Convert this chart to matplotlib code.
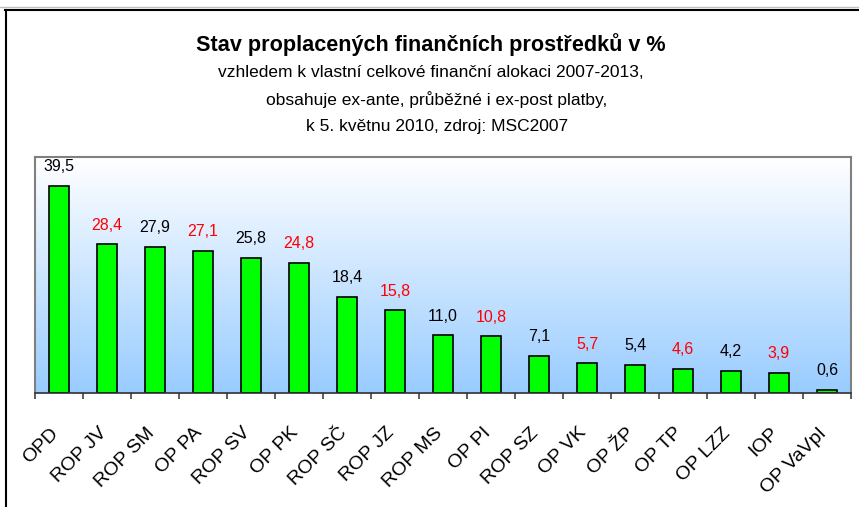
import matplotlib.pyplot as plt
import numpy as np
from matplotlib.colors import LinearSegmentedColormap
from matplotlib.lines import Line2D
from matplotlib.transforms import ScaledTranslation

# Data
programy = ['OPD', 'ROP JV', 'ROP SM', 'OP PA', 'ROP SV', 'OP PK', 'ROP SČ',
            'ROP JZ', 'ROP MS', 'OP PI', 'ROP SZ', 'OP VK', 'OP ŽP', 'OP TP',
            'OP LZZ', 'IOP', 'OP VaVpI']
hodnoty = [39.5, 28.4, 27.9, 27.1, 25.8, 24.8, 18.4, 15.8, 11.0, 10.8,
           7.1, 5.7, 5.4, 4.6, 4.2, 3.9, 0.6]

titulek = 'Stav proplacených finančních prostředků v %'
podtitulky = ['vzhledem k vlastní celkové finanční alokaci 2007-2013,',
              'obsahuje ex-ante, průběžné i ex-post platby,',
              'k 5. květnu 2010, zdroj: MSC2007']

plt.rcParams['font.family'] = ['Liberation Sans', 'DejaVu Sans']

W, H = 859, 507
fig = plt.figure(figsize=(W / 100, H / 100), dpi=100)
ax = fig.add_axes([35 / W, 1 - 393 / H, (851 - 35) / W, (393 - 157) / H])

n = len(programy)
x = np.arange(n)
ax.set_xlim(-0.5, n - 0.5)
ax.set_ylim(0, 45)

# Gradient background of the plot area
gradient = np.linspace(0, 1, 256).reshape(-1, 1)
cmap = LinearSegmentedColormap.from_list('pozadi', ['#99ccff', '#ffffff'])
ax.imshow(gradient, aspect='auto', cmap=cmap, origin='lower',
          extent=[-0.5, n - 0.5, 0, 45], zorder=0)

ax.bar(x, hodnoty, width=0.42, color='#00ff00', edgecolor='black',
       linewidth=1.2, zorder=2)

for i, v in enumerate(hodnoty):
    barva = 'black' if i % 2 == 0 else '#ff0000'
    ax.annotate(f'{v:.1f}'.replace('.', ','), (i, v), xytext=(0, 13.7),
                textcoords='offset points', ha='center', va='center',
                fontsize=11.5, color=barva)

# Axis styling
ax.set_yticks([])
ax.set_xticks(x)
ax.set_xticklabels(programy, fontsize=14)
ax.tick_params(axis='x', which='major', length=0, pad=20.5)
posun = ScaledTranslation(-9 / 100, -3 / 100, fig.dpi_scale_trans)
for lbl in ax.get_xticklabels():
    lbl.set_rotation(45)
    lbl.set_ha('right')
    lbl.set_va('top')
    lbl.set_rotation_mode('anchor')
    lbl.set_transform(lbl.get_transform() + posun)
ax.set_xticks(np.arange(n + 1) - 0.5, minor=True)
ax.tick_params(axis='x', which='minor', length=4.5, width=1.2,
               color='#404040', direction='out')
for s in ['top', 'left', 'right']:
    ax.spines[s].set_color('#808080')
    ax.spines[s].set_linewidth(1.5)
ax.spines['bottom'].set_color('#303030')
ax.spines['bottom'].set_linewidth(1.2)

# Titles
fig.text(431 / W, 1 - 45 / H, titulek, ha='center', va='center',
         fontsize=15.6, fontweight='bold')
stredy = [431, 437, 437]
for k, t in enumerate(podtitulky):
    fig.text(stredy[k] / W, 1 - (72 + 27.5 * k) / H, t, ha='center',
             va='center', fontsize=12.5)

# Outer frame
fig.add_artist(Line2D([0, 1], [1 - 7 / H, 1 - 7 / H], transform=fig.transFigure,
                      color='#c0c0c0', lw=1))
fig.add_artist(Line2D([5 / W, 1], [1 - 9.5 / H, 1 - 9.5 / H],
                      transform=fig.transFigure, color='black', lw=1.5))
fig.add_artist(Line2D([5.5 / W, 5.5 / W], [0, 1 - 9.5 / H],
                      transform=fig.transFigure, color='black', lw=1.5))

fig.savefig('out.png', dpi=100)
